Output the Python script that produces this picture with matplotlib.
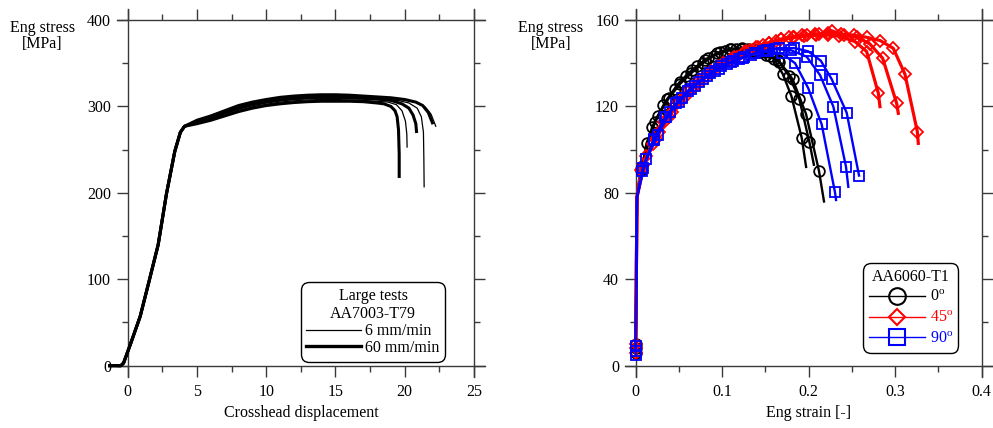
import matplotlib
matplotlib.use("Agg")
import matplotlib.pyplot as plt
from matplotlib.lines import Line2D
from matplotlib.ticker import MultipleLocator, FuncFormatter

plt.rcParams['font.family'] = ['Liberation Serif', 'DejaVu Serif']
plt.rcParams['mathtext.fontset'] = 'custom'
plt.rcParams['mathtext.rm'] = 'Liberation Serif'
plt.rcParams['mathtext.it'] = 'Liberation Serif:italic'
FS = 11.5

# ---------------- Left panel data: AA7003-T79 large tests ----------------
elastic_x = [-1.3, -0.5, -0.3, 0.2, 0.9, 1.5, 2.2, 2.8, 3.4, 3.8, 4.1]
elastic_y = [0, 0, 3, 25, 57, 95, 140, 199, 248, 270, 277]
plateau_x = [5, 6, 7, 8, 9, 10, 11, 12, 13, 14, 15, 16, 17, 18]

test_A_plateau = [280, 284, 289, 294, 298, 301, 303, 304.5, 305.5, 306, 306, 306, 305.5, 304]
test_A_tail_x = [18.5, 19.0, 19.3, 19.45, 19.55, 19.6, 19.6]
test_A_tail_y = [303, 300, 295, 288, 273, 245, 219]

test_B_plateau = [281, 285, 290, 295.5, 299.5, 302.5, 305, 306.5, 307.5, 308, 308, 307.5, 307, 306]
test_B_tail_x = [18.8, 19.4, 19.8, 20.05, 20.15, 20.17]
test_B_tail_y = [305, 302, 295, 283, 268, 253]

test_C_plateau = [282, 287, 292.5, 298, 302, 305, 307.5, 309, 310, 310.5, 310.5, 310, 309.5, 308.5]
test_C_tail_x = [19.0, 19.8, 20.3, 20.6, 20.8, 20.85]
test_C_tail_y = [307, 303, 298, 290, 280, 271]

test_D_plateau = [282, 286, 291.5, 297, 301, 304, 306.5, 308, 309, 309.5, 309.5, 309, 308.5, 308]
test_D_tail_x = [19.5, 20.3, 20.9, 21.2, 21.35, 21.38, 21.4]
test_D_tail_y = [307, 304, 298, 288, 270, 240, 207]

test_E_plateau = [284, 289, 295, 301, 305, 308, 310.5, 312, 313, 313.5, 313.5, 313, 312, 311]
test_E_tail_x = [19.0, 20.0, 20.8, 21.3, 21.7, 22.0]
test_E_tail_y = [310, 308, 305, 301, 293, 281]

test_F_plateau = [283, 288, 294, 299.5, 303.5, 306.5, 309, 310.5, 311.5, 312, 312, 311.5, 311, 310]
test_F_tail_x = [19.0, 20.0, 21.0, 21.5, 21.9, 22.24]
test_F_tail_y = [309, 307.5, 304, 299, 291, 277]

left_tests = [
    ("60 mm/min", test_A_plateau, test_A_tail_x, test_A_tail_y),
    ("6 mm/min", test_B_plateau, test_B_tail_x, test_B_tail_y),
    ("60 mm/min", test_C_plateau, test_C_tail_x, test_C_tail_y),
    ("6 mm/min", test_D_plateau, test_D_tail_x, test_D_tail_y),
    ("60 mm/min", test_E_plateau, test_E_tail_x, test_E_tail_y),
    ("6 mm/min", test_F_plateau, test_F_tail_x, test_F_tail_y),
]

# ---------------- Right panel data: AA6060-T1 ----------------
k1_strain = [0, 0.0015, 0.006, 0.019, 0.032, 0.045, 0.058, 0.071, 0.084, 0.097, 0.110, 0.123, 0.136, 0.149, 0.160, 0.170, 0.180, 0.1919, 0.197]
k1_stress = [8, 78, 91, 110.5, 120.5, 128, 134, 138.5, 142.5, 145, 146.5, 147, 146.5, 145, 142, 135, 124.8, 105.5, 92]
k2_strain = [0, 0.0015, 0.0125, 0.0255, 0.0385, 0.0515, 0.0645, 0.0775, 0.0905, 0.1035, 0.1165, 0.1295, 0.1425, 0.1555, 0.166, 0.1775, 0.1892, 0.2007, 0.206]
k2_stress = [10, 78, 103, 115.5, 124, 130.5, 135.5, 140, 143.5, 145.5, 146.5, 146.5, 145.5, 143.5, 140.5, 134, 123.3, 103.7, 93]
k3_strain = [0, 0.0015, 0.0058, 0.0223, 0.0365, 0.0512, 0.0655, 0.08, 0.0945, 0.109, 0.123, 0.137, 0.151, 0.1649, 0.1815, 0.1969, 0.2119, 0.2177]
k3_stress = [6, 78, 90.6, 113, 123.5, 131.5, 137, 141.5, 144.8, 146.8, 146.5, 145.5, 144, 141.5, 132.5, 116.5, 90.1, 76]

r1_strain = [0, 0.0015, 0.006, 0.0195, 0.033, 0.0465, 0.06, 0.0735, 0.087, 0.1005, 0.114, 0.1275, 0.141, 0.1545, 0.168, 0.1815, 0.195, 0.2085, 0.222, 0.2355, 0.2535, 0.267, 0.2805, 0.2824]
r1_stress = [8, 78, 90.5, 102.5, 113, 121, 127, 132, 136.5, 140, 143, 145.5, 147.5, 149.5, 151, 152, 152.5, 153, 153, 152.5, 150, 145.4, 126.1, 119.9]
r2_strain = [0, 0.0015, 0.009, 0.0235, 0.038, 0.0525, 0.067, 0.0815, 0.096, 0.1105, 0.125, 0.1395, 0.154, 0.1685, 0.183, 0.1975, 0.212, 0.2265, 0.241, 0.2555, 0.2705, 0.2855, 0.3017, 0.3036]
r2_stress = [6, 78, 93, 105, 115, 123, 129, 134, 138.5, 142, 145, 147.5, 149.5, 151, 152, 153, 153.5, 155, 153, 152, 149, 142.3, 121.4, 116.8]
r3_strain = [0, 0.0015, 0.012, 0.027, 0.042, 0.057, 0.072, 0.087, 0.102, 0.117, 0.132, 0.147, 0.162, 0.177, 0.192, 0.207, 0.222, 0.237, 0.252, 0.267, 0.2825, 0.2978, 0.3113, 0.3256, 0.3267]
r3_stress = [10, 78, 97, 108, 117.5, 124.5, 130.5, 135.5, 139.5, 143, 146, 148.5, 150.5, 152, 153, 153.5, 154, 153.5, 153, 152, 150.5, 146.9, 134.9, 108.3, 102.9]

u1_strain = [0, 0.0015, 0.008, 0.021, 0.034, 0.047, 0.06, 0.073, 0.086, 0.099, 0.112, 0.125, 0.138, 0.1535, 0.169, 0.1842, 0.1995, 0.215, 0.2304, 0.2316]
u1_stress = [7, 78, 91.4, 105, 115, 121.5, 127, 131.5, 135.5, 138.5, 141, 143, 144.5, 145.5, 144.5, 140, 128.4, 111.7, 80.2, 76.7]
u2_strain = [0, 0.0015, 0.0075, 0.0215, 0.0355, 0.0495, 0.0635, 0.0775, 0.0915, 0.1055, 0.1195, 0.1335, 0.1475, 0.1615, 0.1795, 0.1977, 0.2131, 0.2285, 0.2431, 0.2458]
u2_stress = [9, 78, 90, 104.5, 115, 122, 128, 132.5, 136.5, 139.5, 142, 144, 145.5, 146.5, 146, 143, 134.5, 119.9, 92.1, 82.8]
u3_strain = [0, 0.0015, 0.012, 0.026, 0.04, 0.054, 0.068, 0.082, 0.096, 0.11, 0.124, 0.138, 0.152, 0.166, 0.1835, 0.1995, 0.2139, 0.2266, 0.2439, 0.2582]
u3_stress = [5, 78, 95.5, 107, 117.5, 124, 129.5, 134, 137.5, 140.5, 142.5, 144.5, 146, 147, 147, 145.5, 141.2, 132.6, 117.1, 88]

orient_labels = [r'0$^{\rm o}$', r'45$^{\rm o}$', r'90$^{\rm o}$']
orient_colors = ['black', '#ff0000', '#0000ff']
orient_markers = ['o', 'D', 's']
orient_ms = [7.7, 6.0, 7.8]
orient_curves = [
    [(k1_strain, k1_stress, True), (k2_strain, k2_stress, True), (k3_strain, k3_stress, True)],
    [(r1_strain, r1_stress, True), (r2_strain, r2_stress, True), (r3_strain, r3_stress, True)],
    [(u1_strain, u1_stress, True), (u2_strain, u2_stress, True), (u3_strain, u3_stress, False)],
]

# ---------------- Figure ----------------
fig = plt.figure(figsize=(9.93, 4.28), dpi=100)
ax1 = fig.add_axes([127.7 / 993, 1 - 365.7 / 428, 346.3 / 993, 345.7 / 428])
ax2 = fig.add_axes([635.7 / 993, 1 - 365.7 / 428, 346.0 / 993, 345.7 / 428])

FRAME = '#3a3a3a'


def style_axes(ax):
    for s in ax.spines.values():
        s.set_visible(False)
    ex = 11 / 346.0
    ey = 11 / 345.7
    kw = dict(transform=ax.transAxes, clip_on=False, color=FRAME, lw=1.0, zorder=0.5)
    ax.plot([-ex, 1 + ex], [0, 0], **kw)
    ax.plot([-ex, 1 + ex], [1, 1], **kw)
    ax.plot([0, 0], [-ey, 1 + ey], **kw)
    ax.plot([1, 1], [-ey, 1 + ey], **kw)
    ax.tick_params(which='both', direction='out', top=True, right=True, color=FRAME,
                   width=1.0, labelsize=FS, labelcolor='black')
    ax.tick_params(which='major', length=8, pad=4)
    ax.tick_params(which='minor', length=4.3)
    ax.tick_params(axis='x', which='major', pad=5)


# Left panel
for label, plat, tx, ty in left_tests:
    thick = label.startswith('60')
    xs = elastic_x + plateau_x + tx
    ys = elastic_y + plat + ty
    ax1.plot(xs, ys, color='black', lw=2.2 if thick else 0.9, clip_on=False,
             solid_joinstyle='round', zorder=3 if thick else 2)

ax1.set_xlim(0, 25)
ax1.set_ylim(0, 400)
ax1.xaxis.set_major_locator(MultipleLocator(5))
ax1.xaxis.set_minor_locator(MultipleLocator(2.5))
ax1.yaxis.set_major_locator(MultipleLocator(100))
ax1.yaxis.set_minor_locator(MultipleLocator(50))
style_axes(ax1)
ax1.set_xlabel('Crosshead displacement', fontsize=FS, labelpad=4)

h_thin = Line2D([], [], color='black', lw=0.9)
h_thick = Line2D([], [], color='black', lw=2.4)
leg1 = ax1.legend([h_thin, h_thick], ['6 mm/min', '60 mm/min'], title='Large tests\nAA7003-T79',
                  loc='lower right', bbox_to_anchor=(0.9105, 0.019), borderaxespad=0,
                  fontsize=FS, title_fontsize=FS, frameon=True, fancybox=True,
                  edgecolor='black', framealpha=1, handlelength=3.4, handletextpad=0.3,
                  labelspacing=0.05, borderpad=0.2)
leg1.get_title().set_multialignment('center')
leg1.get_frame().set_linewidth(1.0)
leg1.get_frame().set_boxstyle('round,pad=0.15,rounding_size=0.5')

# Right panel
for color, marker, ms, curves in zip(orient_colors, orient_markers, orient_ms, orient_curves):
    for sx, sy, skip_last in curves:
        n = len(sx)
        idx = [0] + list(range(2, n - 1 if skip_last else n))
        ax2.plot(sx, sy, color=color, lw=1.7 if color != '#ff0000' else 2.3,
                 marker=marker, ms=ms, mfc='none', mec=color, mew=1.3,
                 markevery=idx, clip_on=False)

ax2.set_xlim(0, 0.4)
ax2.set_ylim(0, 160)
ax2.xaxis.set_major_locator(MultipleLocator(0.1))
ax2.xaxis.set_minor_locator(MultipleLocator(0.05))
ax2.yaxis.set_major_locator(MultipleLocator(40))
ax2.yaxis.set_minor_locator(MultipleLocator(20))
ax2.xaxis.set_major_formatter(FuncFormatter(lambda v, p: '%g' % round(v, 3)))
style_axes(ax2)
ax2.set_xlabel('Eng strain [-]', fontsize=FS, labelpad=4)

leg_ms = [12, 8.5, 12]
handles2 = [Line2D([], [], color=c, lw=1.0, marker=m, ms=s, mfc='none', mec=c, mew=1.5)
            for c, m, s in zip(orient_colors, orient_markers, leg_ms)]
leg2 = ax2.legend(handles2, orient_labels, title='AA6060-T1', loc='lower right',
                  bbox_to_anchor=(0.926, 0.045), borderaxespad=0, fontsize=FS,
                  title_fontsize=FS, frameon=True, fancybox=True, edgecolor='black',
                  framealpha=1, handlelength=3.5, handletextpad=0.3, labelspacing=0.3,
                  borderpad=0.2, labelcolor='linecolor')
leg2.get_frame().set_linewidth(1.0)
leg2.get_frame().set_boxstyle('round,pad=0.15,rounding_size=0.5')

# Y labels
fig.text(42.5 / 993, 1 - 36.5 / 428, 'Eng stress\n[MPa]', ha='center', va='center',
         fontsize=FS, linespacing=1.0)
fig.text(551 / 993, 1 - 36.5 / 428, 'Eng stress\n[MPa]', ha='center', va='center',
         fontsize=FS, linespacing=1.0)

fig.savefig('out.png', dpi=100)
